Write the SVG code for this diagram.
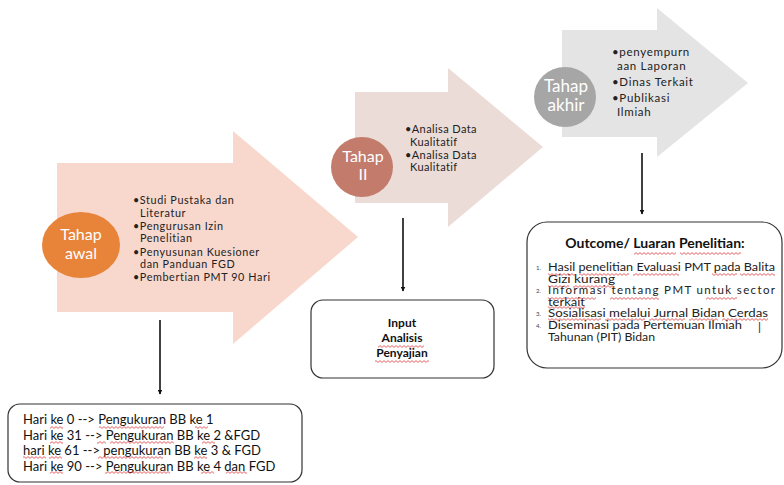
<svg xmlns="http://www.w3.org/2000/svg" width="784" height="485" viewBox="0 0 784 485">
<style>
.t{font-family:Lato,"Open Sans","Liberation Sans",sans-serif;fill:#222;font-size:10.8px;letter-spacing:0.6px}
.c{font-family:Lato,"Open Sans","Liberation Sans",sans-serif;fill:#fff;font-size:16px;text-anchor:middle}
.b{font-family:Lato,"Open Sans","Liberation Sans",sans-serif;fill:#111;font-size:13px}
.o{font-family:Lato,"Open Sans","Liberation Sans",sans-serif;fill:#222;font-size:11.5px}
.n{font-family:Lato,"Open Sans","Liberation Sans",sans-serif;fill:#444;font-size:6px}
.box{fill:#fff;stroke:#333;stroke-width:1.2}
.ln{stroke:#111;stroke-width:1.6;fill:none}
.u{fill:url(#wv)}
</style>
<defs>
<marker id="ah" viewBox="0 0 10 10" refX="9" refY="5" markerWidth="5" markerHeight="5" orient="auto" markerUnits="userSpaceOnUse">
<path d="M0,0 L10,5 L0,10 z" fill="#111"/>
</marker>
<pattern id="wv" patternUnits="userSpaceOnUse" x="0" y="0" width="4" height="3">
<path d="M0,0.6 L2,2.4 L4,0.6" fill="none" stroke="#e03a3a" stroke-width="0.8"/>
</pattern>
</defs>
<rect width="784" height="485" fill="#fff"/>
<g id="tahap-awal">
<path d="M57,163 H233 V131 L358,237 L233,344 V312 H57 Z" fill="#f8d8cd"/>
<ellipse cx="81" cy="245" rx="39" ry="33" fill="#e8833a"/>
<text class="c" x="81" y="240">Tahap</text>
<text class="c" x="81" y="259">awal</text>
<text class="t" x="133" y="204">•Studi Pustaka dan</text>
<text class="t" x="140" y="216.5">Literatur</text>
<text class="t" x="133" y="230">•Pengurusan Izin</text>
<text class="t" x="140" y="242">Penelitian</text>
<text class="t" x="133" y="255.5">•Penyusunan Kuesioner</text>
<text class="t" x="140" y="267.5">dan Panduan FGD</text>
<text class="t" x="133" y="281">•Pembertian PMT 90 Hari</text>
</g>
<g id="tahap-2">
<path d="M355,92 H448 V68 L543,147 L448,227 V203 H355 Z" fill="#ecdcd8"/>
<ellipse cx="362" cy="167" rx="31" ry="30" fill="#c37b6c"/>
<text class="c" x="363" y="162">Tahap</text>
<text class="c" x="363" y="180">II</text>
<text class="t" x="405" y="133" style="font-size:11px;letter-spacing:0.4px">•Analisa Data</text>
<text class="t" x="410" y="146" style="font-size:11px;letter-spacing:0.4px">Kualitatif</text>
<text class="t" x="405" y="159" style="font-size:11px;letter-spacing:0.4px">•Analisa Data</text>
<text class="t" x="410" y="171" style="font-size:11px;letter-spacing:0.4px">Kualitatif</text>
</g>
<g id="tahap-akhir">
<path d="M562,30 H657 V8 L748,83 L657,157 V137 H562 Z" fill="#e4e4e4"/>
<ellipse cx="565" cy="97" rx="31" ry="30" fill="#a6a6a6"/>
<text class="c" x="566" y="92" style="font-size:17px">Tahap</text>
<text class="c" x="566" y="111" style="font-size:17px">akhir</text>
<text class="t" x="612" y="56" style="font-size:11.5px;letter-spacing:0.7px">•penyempurn</text>
<text class="t" x="617" y="69.5" style="font-size:11.5px;letter-spacing:0.7px">aan Laporan</text>
<text class="t" x="612" y="86" style="font-size:11.5px;letter-spacing:0.7px">•Dinas Terkait</text>
<text class="t" x="612" y="102" style="font-size:11.5px;letter-spacing:0.7px">•Publikasi</text>
<text class="t" x="617" y="115.5" style="font-size:11.5px;letter-spacing:0.7px">Ilmiah</text>
</g>
<g id="connectors">
<line class="ln" x1="160" y1="320" x2="160" y2="394" marker-end="url(#ah)"/>
<line class="ln" x1="403" y1="218" x2="403" y2="291" marker-end="url(#ah)"/>
<line class="ln" x1="642" y1="153" x2="642" y2="214" marker-end="url(#ah)"/>
</g>
<g id="jadwal">
<rect class="box" x="8" y="404" width="294" height="78" rx="12"/>
<text class="b" x="23" y="424">Hari <tspan>ke</tspan> 0 --&gt; <tspan>Pengukuran</tspan> BB <tspan>ke</tspan> 1</text>
<text class="b" x="23" y="439.5">Hari <tspan>ke</tspan> 31 --&gt;  <tspan>Pengukuran</tspan> BB <tspan>ke</tspan> 2 &amp;FGD</text>
<text class="b" x="23" y="455"><tspan>hari</tspan> <tspan>ke</tspan> 61 --&gt; <tspan>pengukuran</tspan> BB <tspan>ke</tspan> 3 &amp; FGD</text>
<text class="b" x="23" y="470.5">Hari <tspan>ke</tspan> 90 --&gt; <tspan>Pengukuran</tspan> BB <tspan>ke</tspan> 4 <tspan>dan</tspan> FGD</text>
<rect class="u" x="50" y="426" width="13" height="3"/>
<rect class="u" x="99" y="426" width="65" height="3"/>
<rect class="u" x="195" y="426" width="13" height="3"/>
<rect class="u" x="50" y="441" width="13" height="3"/>
<rect class="u" x="97" y="441" width="9" height="3"/>
<rect class="u" x="110" y="441" width="64" height="3"/>
<rect class="u" x="202" y="441" width="13" height="3"/>
<rect class="u" x="23" y="456" width="23" height="3"/>
<rect class="u" x="49" y="456" width="13" height="3"/>
<rect class="u" x="98" y="456" width="65" height="3"/>
<rect class="u" x="194" y="456" width="13" height="3"/>
<rect class="u" x="50" y="471" width="13" height="3"/>
<rect class="u" x="105" y="471" width="65" height="3"/>
<rect class="u" x="201" y="471" width="13" height="3"/>
<rect class="u" x="226" y="471" width="21" height="3"/>
</g>
<g id="input">
<rect class="box" x="311" y="300" width="183" height="78" rx="12"/>
<text class="b" x="402" y="327" style="font-weight:bold;font-size:12px;text-anchor:middle">Input</text>
<text class="b" x="402" y="342" style="font-weight:bold;font-size:12px;text-anchor:middle">Analisis</text>
<text class="b" x="402" y="357" style="font-weight:bold;font-size:12px;text-anchor:middle">Penyajian</text>
<rect class="u" x="378" y="345" width="46" height="3"/>
<rect class="u" x="375" y="360" width="54" height="3"/>
</g>
<g id="outcome">
<rect class="box" x="527" y="222" width="255" height="146" rx="20"/>
<text class="b" x="655" y="248" style="font-weight:bold;font-size:14px;text-anchor:middle">Outcome/ <tspan>Luaran</tspan> <tspan>Penelitian</tspan>:</text>
<text class="n" x="536" y="270">1.</text>
<text class="o" x="548" y="271" textLength="227" lengthAdjust="spacingAndGlyphs"><tspan>Hasil</tspan> <tspan>penelitian</tspan> <tspan>Evaluasi</tspan> PMT <tspan>pada</tspan> <tspan>Balita</tspan></text>
<text class="o" x="548" y="282.5" textLength="67" lengthAdjust="spacingAndGlyphs"><tspan>Gizi</tspan> <tspan>kurang</tspan></text>
<text class="n" x="536" y="293">2.</text>
<text class="o" x="548" y="294" textLength="227" lengthAdjust="spacing"><tspan>Informasi</tspan> <tspan>tentang</tspan> PMT <tspan>untuk</tspan> sector</text>
<text class="o" x="548" y="305.5" textLength="37" lengthAdjust="spacingAndGlyphs">terkait</text>
<text class="n" x="536" y="316">3.</text>
<text class="o" x="548" y="317" textLength="220" lengthAdjust="spacingAndGlyphs"><tspan>Sosialisasi</tspan> <tspan>melalui</tspan> <tspan>Jurnal</tspan> <tspan>Bidan</tspan> <tspan>Cerdas</tspan></text>
<text class="n" x="536" y="328">4.</text>
<text class="o" x="548" y="329" textLength="194" lengthAdjust="spacingAndGlyphs">Diseminasi pada Pertemuan Ilmiah</text>
<text class="o" x="758" y="331" style="font-size:12px">|</text>
<text class="o" x="548" y="341" textLength="107" lengthAdjust="spacingAndGlyphs">Tahunan (PIT) Bidan</text>
<rect class="u" x="634" y="252" width="42" height="3"/>
<rect class="u" x="680" y="252" width="61" height="3"/>
<rect class="u" x="548" y="273" width="27" height="3"/>
<rect class="u" x="579" y="273" width="50" height="3"/>
<rect class="u" x="633" y="273" width="46" height="3"/>
<rect class="u" x="712" y="273" width="25" height="3"/>
<rect class="u" x="740" y="273" width="35" height="3"/>
<rect class="u" x="548" y="285" width="21" height="3"/>
<rect class="u" x="573" y="285" width="42" height="3"/>
<rect class="u" x="548" y="297" width="48" height="3"/>
<rect class="u" x="610" y="297" width="49" height="3"/>
<rect class="u" x="706" y="297" width="31" height="3"/>
<rect class="u" x="548" y="306" width="37" height="3"/>
<rect class="u" x="548" y="318" width="53" height="3"/>
<rect class="u" x="605" y="318" width="40" height="3"/>
<rect class="u" x="649" y="318" width="36" height="3"/>
<rect class="u" x="689" y="318" width="29" height="3"/>
<rect class="u" x="722" y="318" width="46" height="3"/>
</g>
</svg>
